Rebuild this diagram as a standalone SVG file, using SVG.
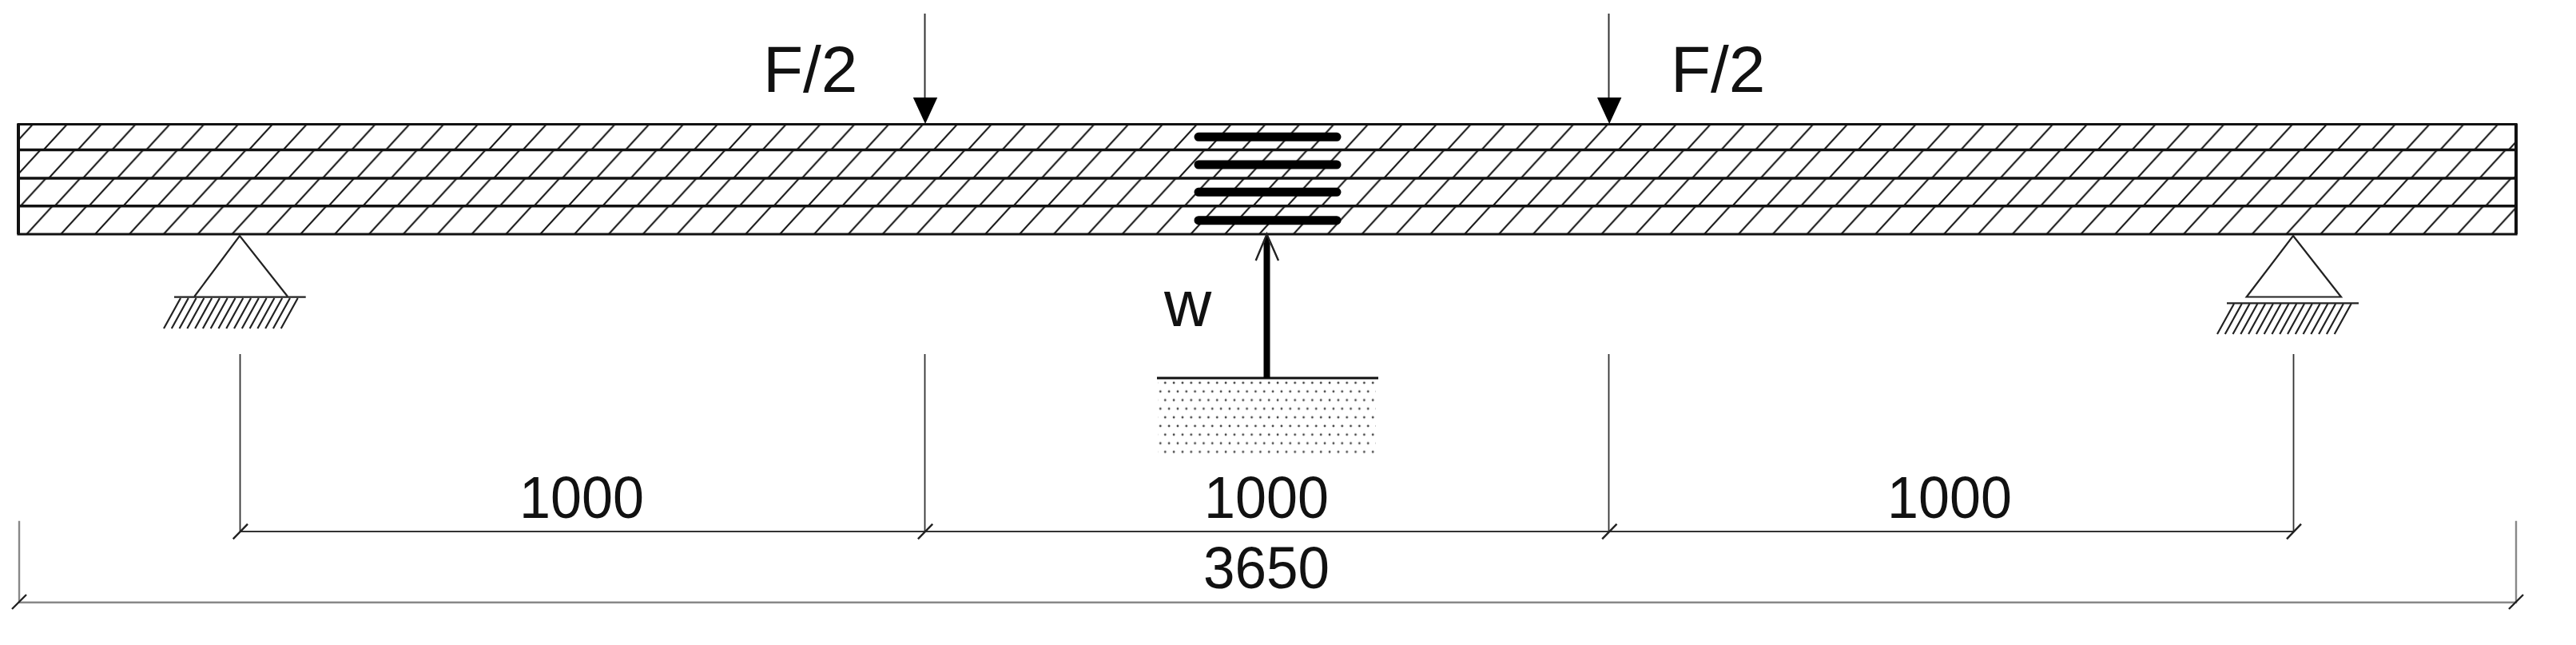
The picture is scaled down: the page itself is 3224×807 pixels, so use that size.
<svg xmlns="http://www.w3.org/2000/svg" xmlns:xlink="http://www.w3.org/1999/xlink" width="3224" height="807" viewBox="0 0 3224 807">
<style>
text{font-family:"Liberation Sans",Arial,sans-serif;fill:#111}
.f{font-size:82px}
.n{font-size:75px;text-anchor:middle}
.h{stroke:#111;stroke-width:2.1;fill:none}
.lay{stroke:#111;stroke-width:3.6;fill:none}
.crack{stroke:#000;stroke-width:11;stroke-linecap:round;fill:none}
.sup{stroke:#222;stroke-width:2.2;fill:none}
.dim{stroke:#333;stroke-width:1.8;fill:none}
.dim2{stroke:#888;stroke-width:2.4;fill:none}
.tick{stroke:#222;stroke-width:2.4;fill:none}
.thin{stroke:#333;stroke-width:2;fill:none}
</style>
<defs>
<path id="tile" class="h" d="M-42.85,46.58L0,0M0,46.58L42.85,0M42.85,46.58L85.7,0"/>
<pattern id="h1" patternUnits="userSpaceOnUse" width="42.85" height="46.58" x="12.15" y="140.42"><use href="#tile"/></pattern>
<pattern id="h2" patternUnits="userSpaceOnUse" width="42.85" height="46.58" x="18.1" y="176.42"><use href="#tile"/></pattern>
<pattern id="h3" patternUnits="userSpaceOnUse" width="42.85" height="46.58" x="25.45" y="211.42"><use href="#tile"/></pattern>
<pattern id="h4" patternUnits="userSpaceOnUse" width="42.85" height="46.58" x="33.3" y="246.42"><use href="#tile"/></pattern>
<pattern id="dots" patternUnits="userSpaceOnUse" width="10.83" height="21.6" x="1452.3" y="479">
<circle cx="6" cy="0" r="1.4" fill="#444"/><circle cx="6" cy="21.6" r="1.4" fill="#444"/><circle cx="0" cy="10.8" r="1.4" fill="#444"/><circle cx="10.83" cy="10.8" r="1.4" fill="#444"/>
</pattern>
<path id="gh" class="sup" d="M205,411l21,-38m-11.22,38l21,-38m-11.22,38l21,-38m-11.22,38l21,-38m-11.22,38l21,-38m-11.22,38l21,-38m-11.22,38l21,-38m-11.22,38l21,-38m-11.22,38l21,-38m-11.22,38l21,-38m-11.22,38l21,-38m-11.22,38l21,-38m-11.22,38l21,-38m-11.22,38l21,-38m-11.22,38l21,-38m-11.22,38l21,-38"/>
</defs>
<rect width="3224" height="807" fill="#fff"/>
<g id="beam">
<rect x="23" y="155" width="3126" height="33" fill="url(#h1)"/>
<rect x="23" y="188" width="3126" height="35" fill="url(#h2)"/>
<rect x="23" y="223" width="3126" height="35" fill="url(#h3)"/>
<rect x="23" y="258" width="3126" height="35" fill="url(#h4)"/>
<path class="lay" d="M23,187.5H3149M23,223H3149M23,257.8H3149"/>
<path fill="none" stroke="#111" stroke-width="3.2" d="M23,155.5H3149V293H23Z"/>
<path fill="none" stroke="#111" stroke-width="4" d="M23,155V293M3149,155V293"/>
</g>
<g id="delamination">
<path class="crack" d="M1500,171.3H1673M1500,206H1673M1500,240.3H1673M1500,275.7H1673"/>
</g>
<g id="support-left">
<path class="sup" d="M243.3,371L300,295L360,371"/>
<path class="sup" d="M218,371.7H382.7"/>
<use href="#gh"/>
</g>
<g id="support-right">
<path class="sup" d="M2870,295L2930,371.5H2811.7Z"/>
<path class="sup" d="M2787,379.3H2952"/>
<use href="#gh" transform="translate(2570,7)"/>
</g>
<g id="ground">
<rect x="1449" y="474" width="273" height="96" fill="url(#dots)"/>
<path stroke="#111" stroke-width="3" fill="none" d="M1448,473H1725"/>
</g>
<g id="connectors">
<path class="thin" d="M1157.5,17V125"/>
<path fill="#000" d="M1142.8,122H1173.2L1158,155Z"/>
<path class="thin" d="M2013.5,17V125"/>
<path fill="#000" d="M1999,122H2029.4L2014.2,155Z"/>
<path stroke="#000" stroke-width="8" fill="none" d="M1585.5,473V305"/>
<path fill="#000" d="M1581.5,306L1585.5,290L1589.5,306Z"/>
<path stroke="#222" stroke-width="2.4" fill="none" d="M1571.7,326L1585.5,293L1600,326"/>
<g id="dimensions">
<path class="dim" d="M300.5,443V665M1157.5,443V665M2013.5,443V665M2870.5,443V665M300.5,665H2870.5"/>
<path class="tick" d="M291.7,674.3L310,655.7M1148.9,674.3L1167.2,655.7M2005.2,674.3L2023.5,655.7M2862,674.3L2880,655.7"/>
<path class="dim2" d="M24,651.7V753.7H3149V651.7"/>
<path class="tick" d="M15,762L33,744M3140,762L3158,744"/>
</g>
</g>
<g id="labels">
<text class="f" x="955" y="115">F/2</text>
<text class="f" x="2091" y="115">F/2</text>
<text class="f" x="1457" y="408">w</text>
<text class="n" x="728" y="648" textLength="156" lengthAdjust="spacingAndGlyphs">1000</text>
<text class="n" x="1585" y="648" textLength="156" lengthAdjust="spacingAndGlyphs">1000</text>
<text class="n" x="2440" y="648" textLength="156" lengthAdjust="spacingAndGlyphs">1000</text>
<text class="n" x="1585" y="736" textLength="158" lengthAdjust="spacingAndGlyphs">3650</text>
</g>
</svg>
